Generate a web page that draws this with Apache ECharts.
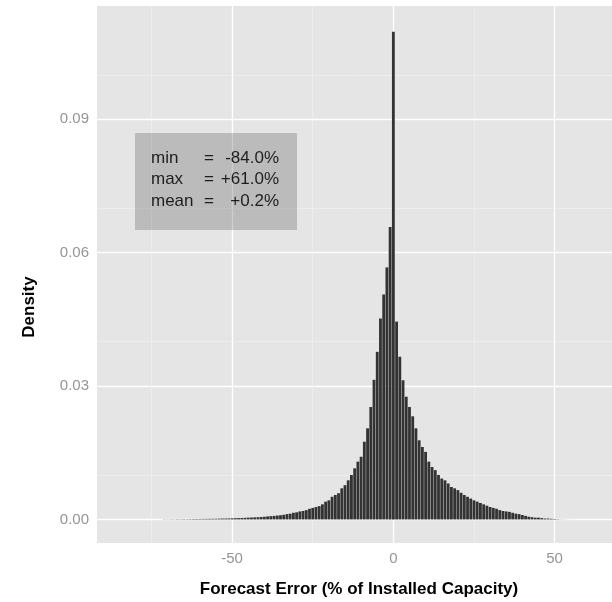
<!DOCTYPE html>
<html>
<head>
<meta charset="utf-8">
<script src="https://cdn.jsdelivr.net/npm/echarts@6/dist/echarts.min.js"></script>
<style>
  html, body { margin: 0; padding: 0; background: #ffffff; }
  #chart { width: 612px; height: 602px; }
</style>
</head>
<body>
<div id="chart"></div>
<script>
// ---- Data ----
const binStart = -84;   // centre of first histogram bin (% of installed capacity)
const binWidth = 1;     // bin width (% of installed capacity)
const density = [
  // -84 .. -72
  0.000005, 0.000003, 0.000004, 0.000003, 0.000005, 0.000004, 0.000003, 0.000005, 0.000006, 0.000005, 0.000007, 0.000008, 0.00001,
  // -71 .. -60
  0.00004, 0.00003, 0.00005, 0.00004, 0.00006, 0.00005, 0.00007, 0.00006, 0.00008, 0.00009, 0.00010, 0.00011,
  // -59 .. -50
  0.00012, 0.00013, 0.00014, 0.00015, 0.00016, 0.00018, 0.00020, 0.00021, 0.00023, 0.00025,
  // -49 .. -40
  0.00028, 0.00030, 0.00033, 0.00036, 0.00040, 0.00043, 0.00047, 0.00050, 0.00055, 0.00060,
  // -39 .. -30
  0.00068, 0.00074, 0.00080, 0.00087, 0.00095, 0.00104, 0.00120, 0.00130, 0.00150, 0.00160,
  // -29 .. -20
  0.00180, 0.00190, 0.00210, 0.00240, 0.00260, 0.00280, 0.00300, 0.00340, 0.00400, 0.00430,
  // -19 .. -10
  0.00510, 0.00550, 0.00590, 0.00700, 0.00770, 0.00880, 0.01000, 0.01150, 0.01300, 0.01410,
  // -9 .. -1
  0.01750, 0.02050, 0.02530, 0.03140, 0.03770, 0.04520, 0.05060, 0.05670, 0.06580,
  // 0
  0.10970,
  // 1 .. 10
  0.04450, 0.03660, 0.03130, 0.02760, 0.02530, 0.02320, 0.02050, 0.01780, 0.01630, 0.01520,
  // 11 .. 20
  0.01300, 0.01180, 0.01110, 0.01000, 0.00920, 0.00880, 0.00810, 0.00730, 0.00700, 0.00660,
  // 21 .. 30
  0.00600, 0.00550, 0.00510, 0.00470, 0.00430, 0.00400, 0.00370, 0.00340, 0.00310, 0.00280,
  // 31 .. 40
  0.00260, 0.00240, 0.00210, 0.00190, 0.00180, 0.00170, 0.00150, 0.00130, 0.00120, 0.00100,
  // 41 .. 51
  0.00080, 0.00060, 0.00050, 0.00040, 0.00040, 0.00030, 0.00020, 0.00020, 0.00015, 0.00010, 0.00006,
  // 52 .. 61
  0.00003, 0.00002, 0.000015, 0.00001, 0.000008, 0.000006, 0.000005, 0.000003, 0.000003, 0.000005
];
const xTicks = [-50, 0, 50];
const xMinor = [-75, -25, 25];
const yTicks = [0, 0.03, 0.06, 0.09];
const yMinor = [0.015, 0.045, 0.075, 0.105];
const xTitle = 'Forecast Error (% of Installed Capacity)';
const yTitle = 'Density';
const statLabels = ['min', 'max', 'mean'];
const statValues = ['-84.0%', '+61.0%', '+0.2%'];

// ---- Build ----
const bars = density.map((d, i) => [binStart + i * binWidth, d]);

const gridLines = [];
yTicks.forEach(v => gridLines.push({ yAxis: v, lineStyle: { color: '#ffffff', width: 1.3, type: 'solid' } }));
xTicks.forEach(v => gridLines.push({ xAxis: v, lineStyle: { color: '#ffffff', width: 1.3, type: 'solid' } }));
yMinor.forEach(v => gridLines.push({ yAxis: v, lineStyle: { color: '#f2f2f2', width: 0.6, type: 'solid' } }));
xMinor.forEach(v => gridLines.push({ xAxis: v, lineStyle: { color: '#f2f2f2', width: 0.6, type: 'solid' } }));

const FONT = '"Liberation Sans", Arial, Helvetica, sans-serif';
const chart = echarts.init(document.getElementById('chart'), null, { renderer: 'canvas' });

const statGraphics = [];
statLabels.forEach((lab, i) => {
  const cy = 158.5 + i * 21.3;
  statGraphics.push({ type: 'text', z: 20, x: 151, y: cy, style: { text: lab, font: '17px ' + FONT, fill: '#1e1e1e', textAlign: 'left', textVerticalAlign: 'middle' } });
  statGraphics.push({ type: 'text', z: 20, x: 204, y: cy, style: { text: '=', font: '17px ' + FONT, fill: '#1e1e1e', textAlign: 'left', textVerticalAlign: 'middle' } });
  statGraphics.push({ type: 'text', z: 20, x: 279, y: cy, style: { text: statValues[i], font: '17px ' + FONT, fill: '#1e1e1e', textAlign: 'right', textVerticalAlign: 'middle' } });
});

chart.setOption({
  animation: false,
  backgroundColor: '#ffffff',
  grid: {
    left: 97, right: 0, top: 6, bottom: 59,
    show: true, backgroundColor: '#e5e5e5', borderWidth: 0
  },
  xAxis: {
    type: 'value',
    min: -91.9, max: 67.8,
    axisLine: { show: false },
    splitLine: { show: false },
    axisTick: { show: true, customValues: xTicks, length: 4, lineStyle: { color: '#8a8a8a', width: 1 } },
    axisLabel: { customValues: xTicks, color: '#959595', fontSize: 15, fontFamily: FONT, margin: 8,
      formatter: v => String(v) }
  },
  yAxis: {
    type: 'value',
    min: -0.0053, max: 0.1155,
    axisLine: { show: false },
    splitLine: { show: false },
    axisTick: { show: true, customValues: yTicks, length: 4, lineStyle: { color: '#8a8a8a', width: 1 } },
    axisLabel: { customValues: yTicks, color: '#959595', fontSize: 15, fontFamily: FONT, margin: 8,
      formatter: v => v.toFixed(2) }
  },
  series: [{
    type: 'custom',
    z: 3,
    data: bars,
    encode: { x: 0, y: 1 },
    renderItem: function (params, api) {
      const x = api.value(0), y = api.value(1);
      const p0 = api.coord([x - binWidth / 2, y]);
      const p1 = api.coord([x + binWidth / 2, 0]);
      return {
        type: 'rect',
        shape: { x: p0[0] + 0.2, y: p0[1], width: p1[0] - p0[0] - 0.4, height: p1[1] - p0[1] },
        style: { fill: '#333333' }
      };
    },
    markLine: {
      z: 1,
      silent: true,
      symbol: ['none', 'none'],
      label: { show: false },
      emphasis: { disabled: true },
      animation: false,
      data: gridLines
    }
  }],
  graphic: [
    { type: 'rect', z: 15, shape: { x: 135, y: 133, width: 162, height: 97 },
      style: { fill: 'rgba(80,80,80,0.28)' } },
    ...statGraphics,
    { type: 'text', z: 20, x: 359, y: 589, style: { text: xTitle, font: 'bold 17px ' + FONT, fill: '#000000', textAlign: 'center', textVerticalAlign: 'middle' } },
    { type: 'text', z: 20, x: 29, y: 307, rotation: Math.PI / 2, style: { text: yTitle, font: 'bold 17px ' + FONT, fill: '#000000', textAlign: 'center', textVerticalAlign: 'middle' } }
  ]
});
</script>
</body>
</html>
